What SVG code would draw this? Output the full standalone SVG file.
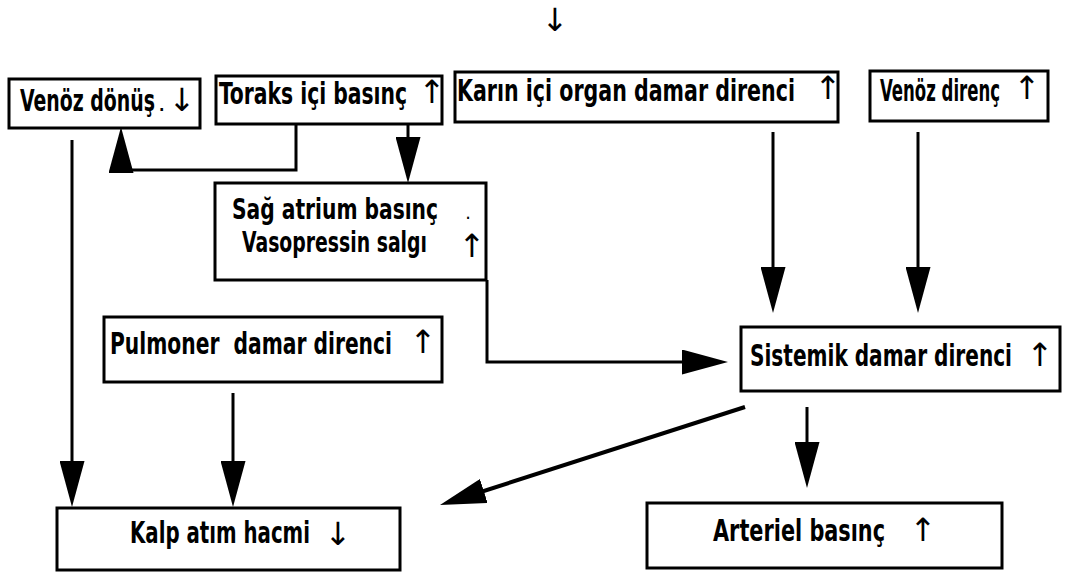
<svg xmlns="http://www.w3.org/2000/svg" width="1078" height="576" viewBox="0 0 1078 576">
<style>
.box{fill:#fff;stroke:#000;stroke-width:3}
.lbl{font-family:"DejaVu Sans Condensed","DejaVu Sans",sans-serif;font-weight:bold;font-size:30px;fill:#000}
.sym{font-family:"DejaVu Sans",sans-serif;font-size:32px;fill:#000;text-anchor:middle}
.sym2{font-family:"DejaVu Sans",sans-serif;font-size:32px;fill:#000}
.dot{font-family:"DejaVu Sans Condensed","DejaVu Sans",sans-serif;font-weight:bold}
.con{fill:none;stroke:#000;stroke-width:3}
</style>
<defs>
<marker id="ah" viewBox="0 0 46 25" refX="36" refY="12.5" markerWidth="46" markerHeight="25" markerUnits="userSpaceOnUse" orient="auto">
<path d="M0,0 L46,12.5 L0,25 Z" fill="#000"/>
</marker>
</defs>
<rect width="1078" height="576" fill="#fff"/>
<text class="sym" x="555" y="31">↓</text>

<g id="connectors">
<polyline class="con" points="296,124 296,170 121,170 121,137" marker-end="url(#ah)"/>
<line class="con" x1="408" y1="124" x2="408" y2="173" marker-end="url(#ah)"/>
<line class="con" x1="72" y1="140" x2="72" y2="497" marker-end="url(#ah)"/>
<line class="con" x1="233" y1="393" x2="233" y2="497" marker-end="url(#ah)"/>
<line class="con" x1="773" y1="132" x2="773" y2="303" marker-end="url(#ah)"/>
<line class="con" x1="918" y1="132" x2="918" y2="303" marker-end="url(#ah)"/>
<polyline class="con" points="487,280 487,362 718,362" marker-end="url(#ah)"/>
<line class="con" style="stroke-width:4" x1="745" y1="407" x2="449.5" y2="502" marker-end="url(#ah)"/>
<line class="con" x1="807" y1="407" x2="807" y2="478" marker-end="url(#ah)"/>
</g>

<g id="venoz-donus">
<rect class="box" x="9" y="79" width="191" height="49"/>
<text class="lbl" transform="translate(20,111) scale(0.68,1)" textLength="198.5" lengthAdjust="spacingAndGlyphs">Venöz dönüş</text>
<text class="sym2" y="111"><tspan class="dot" x="159" style="font-size:16px">.</tspan><tspan x="168.5">↓</tspan></text>
</g>

<g id="toraks">
<rect class="box" x="216" y="76" width="226" height="48"/>
<text class="lbl" transform="translate(219,104) scale(0.68,1)" textLength="276.5" lengthAdjust="spacingAndGlyphs">Toraks içi basınç</text>
<text class="sym" x="432" y="103">↑</text>
</g>

<g id="karin">
<rect class="box" x="455" y="72" width="383" height="50"/>
<text class="lbl" transform="translate(457,101) scale(0.68,1)" textLength="497" lengthAdjust="spacingAndGlyphs">Karın içi organ damar direnci</text>
<text class="sym" x="828" y="99">↑</text>
</g>

<g id="venoz-direnc">
<rect class="box" x="870" y="71" width="178" height="50"/>
<text class="lbl" transform="translate(880,101) scale(0.68,1)" textLength="176.5" lengthAdjust="spacingAndGlyphs">Venöz direnç</text>
<text class="sym" x="1027" y="99">↑</text>
</g>

<g id="sag-atrium">
<rect class="box" x="215" y="183" width="271" height="97"/>
<text class="lbl" style="font-size:28px" transform="translate(232,219) scale(0.73,1)" textLength="282.2" lengthAdjust="spacingAndGlyphs">Sağ atrium basınç</text>
<text class="lbl" style="font-size:28px" transform="translate(242,252) scale(0.73,1)" textLength="253.4" lengthAdjust="spacingAndGlyphs">Vasopressin salgı</text>
<text class="sym2"><tspan class="dot" x="466" y="219" style="font-size:12px">.</tspan><tspan x="458.5" y="257">↑</tspan></text>
</g>

<g id="pulmoner">
<rect class="box" x="104" y="317" width="338" height="65"/>
<text class="lbl" transform="translate(110,354) scale(0.68,1)" textLength="414.7" lengthAdjust="spacingAndGlyphs" xml:space="preserve">Pulmoner  damar direnci</text>
<text class="sym" x="423" y="353">↑</text>
</g>

<g id="sistemik">
<rect class="box" x="741" y="327" width="319" height="64"/>
<text class="lbl" transform="translate(750,366) scale(0.68,1)" textLength="385.3" lengthAdjust="spacingAndGlyphs">Sistemik damar direnci</text>
<text class="sym" x="1040" y="366">↑</text>
</g>

<g id="kalp">
<rect class="box" x="57" y="508" width="343" height="62"/>
<text class="lbl" transform="translate(130,543) scale(0.68,1)" textLength="264.7" lengthAdjust="spacingAndGlyphs">Kalp atım hacmi</text>
<text class="sym" x="338" y="545">↓</text>
</g>

<g id="arteriel">
<rect class="box" x="647" y="503" width="355" height="65"/>
<text class="lbl" transform="translate(713,541) scale(0.68,1)" textLength="253" lengthAdjust="spacingAndGlyphs">Arteriel basınç</text>
<text class="sym" x="923" y="541">↑</text>
</g>
</svg>
